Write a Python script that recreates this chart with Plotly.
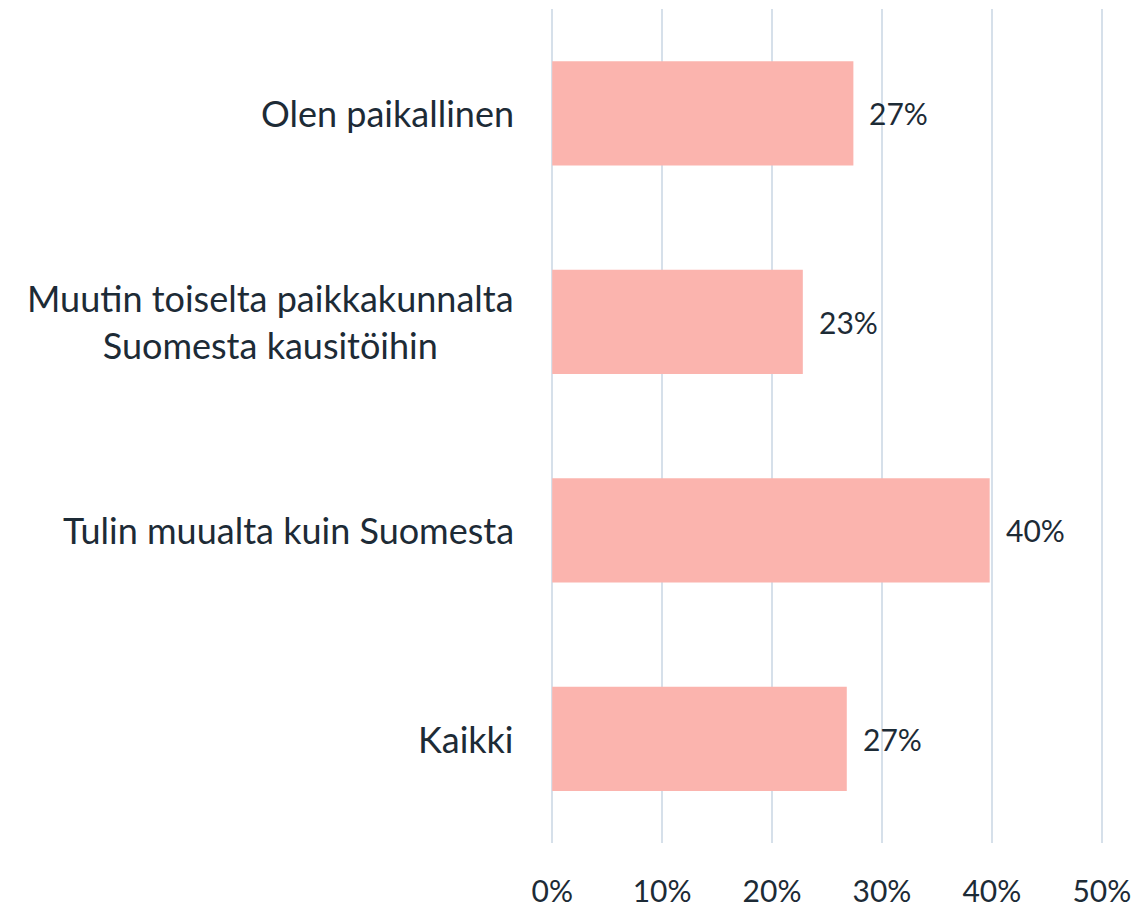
import plotly.graph_objects as go

categories = [
    "Olen paikallinen",
    "Muutin toiselta paikkakunnalta<br>Suomesta kausitöihin",
    "Tulin muualta kuin Suomesta",
    "Kaikki",
]
values = [27.4, 22.8, 39.8, 26.8]
x_ticks = [0, 10, 20, 30, 40, 50]
x_tick_labels = [f"{t}%" for t in x_ticks]

FONT = "Lato"
TEXT = "#1d2b36"
BAR = "#fbb4ae"
GRID = "#d6e0ea"

fig = go.Figure(
    go.Bar(
        x=values,
        y=categories,
        orientation="h",
        marker=dict(color=BAR, line=dict(width=0)),
        hoverinfo="skip",
    )
)

# value labels to the right of each bar
for c, v in zip(categories, values):
    fig.add_annotation(
        x=v, y=c, xref="x", yref="y", text=f"{round(v)}%",
        showarrow=False, xanchor="left", yanchor="middle", xshift=14,
        font=dict(family=FONT, size=30, color=TEXT),
    )

# category labels, centred line-by-line and right-anchored to the axis
for c in categories:
    fig.add_annotation(
        x=0, y=c, xref="x", yref="y", text=c, align="center",
        showarrow=False, xanchor="right", yanchor="middle", xshift=-36,
        font=dict(family=FONT, size=36, color=TEXT),
    )

# a small pad on both ends keeps the 0% and 50% grid lines visible
fig.update_layout(
    width=1145, height=907,
    margin=dict(l=550, r=41, t=9, b=64),
    paper_bgcolor="white", plot_bgcolor="white",
    bargap=0.5,
    showlegend=False,
    font=dict(family=FONT, color=TEXT),
    xaxis=dict(
        range=[-0.2, 50.2], tickvals=x_ticks, ticktext=x_tick_labels,
        showgrid=True, gridcolor=GRID, gridwidth=2, zeroline=False,
        showline=False, ticks="", ticklabelstandoff=28, automargin=False,
        tickfont=dict(family=FONT, size=30, color=TEXT),
        fixedrange=True,
    ),
    yaxis=dict(
        categoryorder="array", categoryarray=categories,
        range=[3.5, -0.5], automargin=False,
        showticklabels=False, showgrid=False, zeroline=False, showline=False,
        fixedrange=True,
    ),
)

fig.write_html("out.html")
